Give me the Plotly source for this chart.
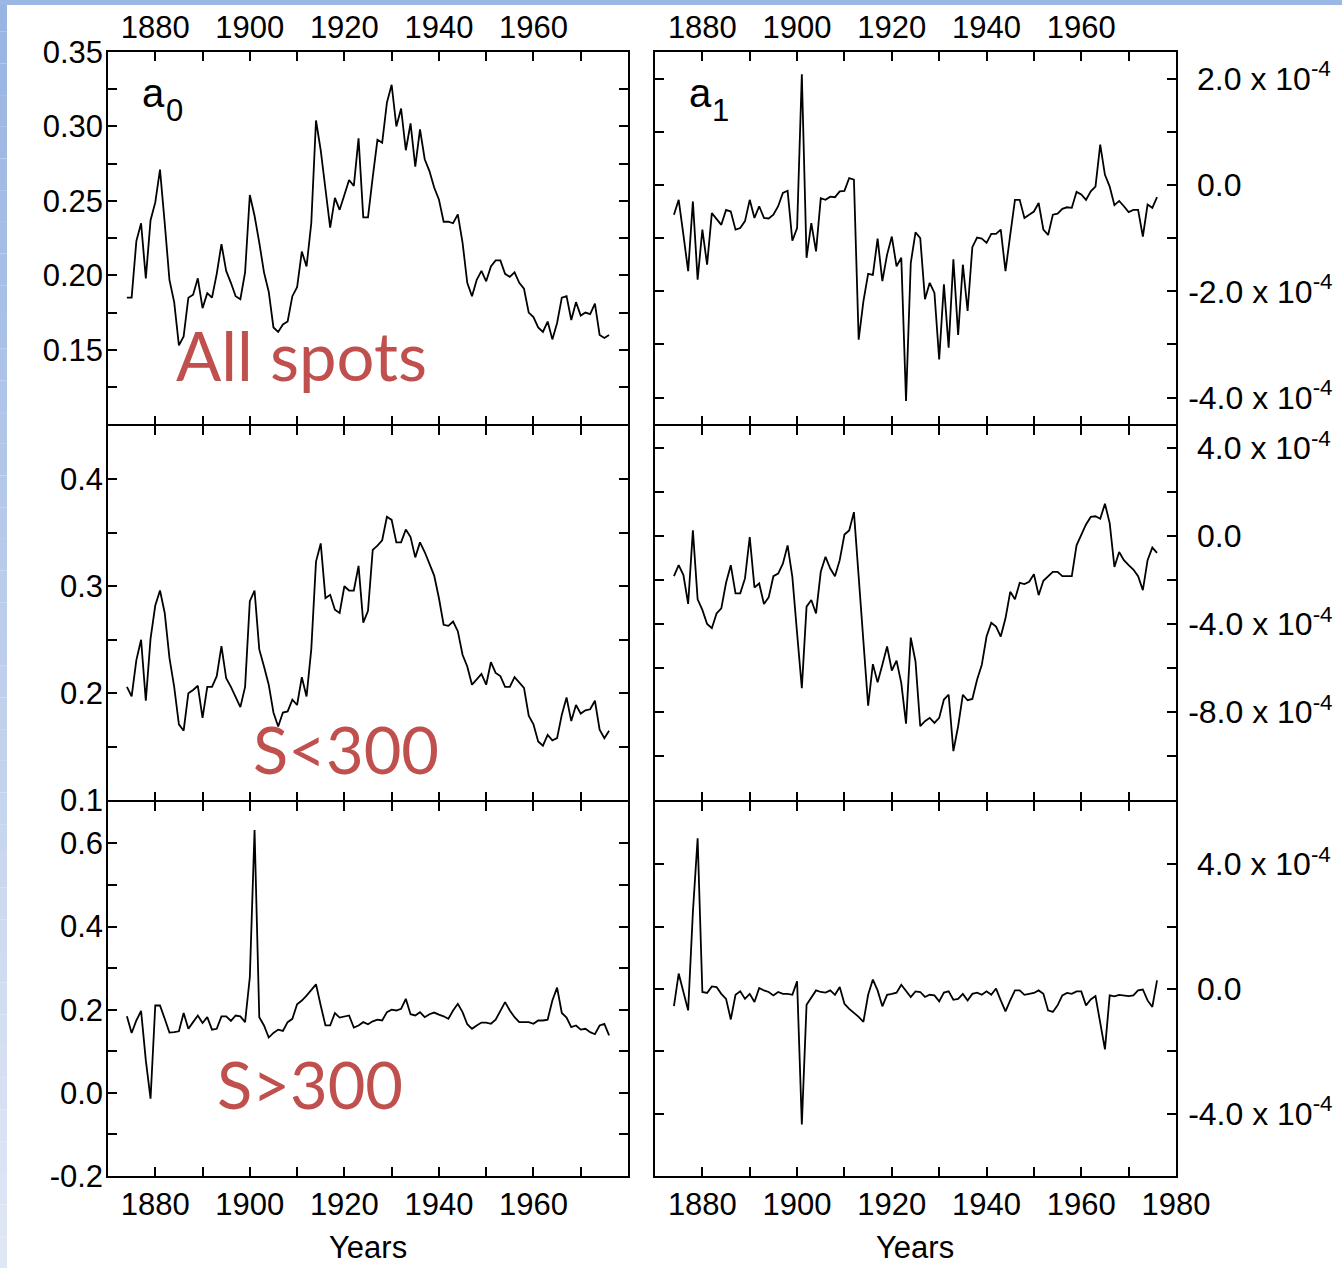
import plotly.graph_objects as go

# ---------------------------------------------------------------- data
years = list(range(1874, 1977))

# a0 coefficient, all spots
a0_all = [
    0.185, 0.185, 0.223, 0.235, 0.198, 0.237, 0.249, 0.271, 0.235, 0.197,
    0.182, 0.153, 0.159, 0.185, 0.187, 0.198, 0.178, 0.188, 0.185, 0.201,
    0.221, 0.203, 0.195, 0.186, 0.184, 0.202, 0.254, 0.240, 0.222, 0.202,
    0.189, 0.165, 0.162, 0.167, 0.169, 0.186, 0.192, 0.216, 0.206, 0.235,
    0.304, 0.284, 0.258, 0.232, 0.252, 0.244, 0.254, 0.264, 0.260, 0.292,
    0.239, 0.239, 0.266, 0.291, 0.289, 0.316, 0.328, 0.300, 0.312, 0.284,
    0.302, 0.273, 0.298, 0.278, 0.270, 0.259, 0.251, 0.236, 0.236, 0.235,
    0.241, 0.222, 0.195, 0.186, 0.197, 0.203, 0.196, 0.206, 0.210, 0.210,
    0.201, 0.199, 0.202, 0.195, 0.191, 0.175, 0.172, 0.165, 0.162, 0.169,
    0.157, 0.168, 0.185, 0.186, 0.170, 0.182, 0.173, 0.175, 0.174, 0.181,
    0.160, 0.158, 0.160,
]

# a1 coefficient, all spots (units of 1e-4)
a1_all = [
    -0.56, -0.28, -0.94, -1.62, -0.31, -1.78, -0.84, -1.50, -0.53, -0.63,
    -0.75, -0.47, -0.50, -0.84, -0.81, -0.68, -0.28, -0.62, -0.40, -0.62,
    -0.63, -0.56, -0.40, -0.15, -0.11, -1.05, -0.81, 2.08, -1.37, -0.72,
    -1.25, -0.25, -0.28, -0.22, -0.23, -0.12, -0.11, 0.13, 0.10, -2.91,
    -2.19, -1.67, -1.69, -1.01, -1.81, -1.31, -0.97, -1.53, -1.37, -4.06,
    -1.47, -0.89, -1.00, -2.15, -1.84, -2.03, -3.28, -1.87, -3.06, -1.40,
    -2.82, -1.50, -2.37, -1.17, -0.99, -1.01, -1.09, -0.92, -0.92, -0.84,
    -1.62, -0.94, -0.28, -0.28, -0.62, -0.56, -0.50, -0.34, -0.84, -0.94,
    -0.56, -0.54, -0.45, -0.42, -0.43, -0.13, -0.18, -0.28, -0.12, -0.03,
    0.76, 0.19, -0.03, -0.38, -0.30, -0.40, -0.51, -0.47, -0.47, -0.97,
    -0.37, -0.43, -0.23,
]

# a0 coefficient, S < 300
a0_lt300 = [
    0.206, 0.197, 0.231, 0.250, 0.193, 0.251, 0.282, 0.296, 0.275, 0.233,
    0.206, 0.171, 0.165, 0.200, 0.203, 0.207, 0.177, 0.206, 0.206, 0.216,
    0.244, 0.214, 0.206, 0.196, 0.187, 0.206, 0.286, 0.296, 0.241, 0.225,
    0.208, 0.182, 0.169, 0.182, 0.183, 0.194, 0.189, 0.215, 0.197, 0.241,
    0.323, 0.340, 0.289, 0.292, 0.278, 0.275, 0.300, 0.296, 0.296, 0.319,
    0.266, 0.277, 0.334, 0.338, 0.343, 0.365, 0.362, 0.341, 0.341, 0.353,
    0.346, 0.327, 0.341, 0.332, 0.320, 0.310, 0.289, 0.264, 0.263, 0.267,
    0.258, 0.236, 0.225, 0.208, 0.213, 0.218, 0.208, 0.229, 0.219, 0.216,
    0.206, 0.206, 0.215, 0.210, 0.205, 0.179, 0.171, 0.155, 0.151, 0.161,
    0.156, 0.158, 0.180, 0.196, 0.174, 0.189, 0.181, 0.184, 0.185, 0.193,
    0.166, 0.158, 0.165,
]

# a1 coefficient, S < 300 (units of 1e-4)
a1_lt300 = [
    -1.83, -1.33, -1.78, -3.09, 0.25, -2.88, -3.36, -4.00, -4.19, -3.52,
    -3.29, -2.13, -1.33, -2.61, -2.61, -1.93, -0.05, -2.34, -2.16, -3.09,
    -2.79, -1.83, -1.71, -1.26, -0.43, -1.86, -4.42, -6.91, -3.21, -2.91,
    -3.52, -1.63, -0.95, -1.48, -1.83, -1.10, 0.06, 0.25, 1.08, -1.86,
    -4.72, -7.71, -5.82, -6.65, -5.85, -5.02, -6.11, -5.66, -6.68, -8.52,
    -4.62, -5.70, -8.64, -8.41, -8.26, -8.49, -8.26, -7.43, -7.21, -9.77,
    -8.64, -7.21, -7.46, -7.40, -6.53, -5.85, -4.57, -3.94, -4.12, -4.57,
    -3.74, -2.54, -2.88, -2.13, -2.19, -2.08, -1.74, -2.69, -2.04, -1.83,
    -1.63, -1.63, -1.83, -1.83, -1.83, -0.43, 0.03, 0.52, 0.86, 0.89,
    0.78, 1.46, 0.58, -1.41, -0.73, -1.10, -1.33, -1.53, -1.83, -2.46,
    -1.10, -0.53, -0.77,
]

# a0 coefficient, S > 300
a0_gt300 = [
    0.184, 0.144, 0.174, 0.197, 0.078, -0.014, 0.210, 0.210, 0.178, 0.145,
    0.146, 0.148, 0.192, 0.154, 0.170, 0.186, 0.168, 0.182, 0.152, 0.154,
    0.184, 0.184, 0.173, 0.186, 0.184, 0.170, 0.278, 0.632, 0.182, 0.162,
    0.133, 0.144, 0.152, 0.149, 0.170, 0.178, 0.213, 0.222, 0.234, 0.248,
    0.261, 0.210, 0.162, 0.162, 0.192, 0.181, 0.184, 0.186, 0.157, 0.162,
    0.170, 0.165, 0.172, 0.176, 0.174, 0.194, 0.200, 0.198, 0.202, 0.226,
    0.189, 0.186, 0.194, 0.182, 0.189, 0.193, 0.188, 0.184, 0.178, 0.198,
    0.214, 0.194, 0.165, 0.154, 0.162, 0.169, 0.169, 0.166, 0.176, 0.198,
    0.218, 0.198, 0.182, 0.170, 0.170, 0.170, 0.166, 0.174, 0.174, 0.176,
    0.222, 0.253, 0.192, 0.181, 0.158, 0.162, 0.152, 0.154, 0.146, 0.141,
    0.162, 0.166, 0.138,
]

# a1 coefficient, S > 300 (units of 1e-4)
a1_gt300 = [
    -0.55, 0.49, -0.10, -0.69, 2.46, 4.83, -0.10, -0.13, 0.08, 0.06,
    -0.16, -0.32, -0.98, -0.19, -0.08, -0.32, -0.16, -0.42, 0.03, -0.05,
    -0.10, -0.21, -0.10, -0.16, -0.16, -0.19, 0.24, -4.35, -0.51, -0.26,
    -0.05, -0.10, -0.12, -0.05, -0.19, 0.06, -0.48, -0.64, -0.76, -0.90,
    -1.06, -0.19, 0.30, -0.05, -0.56, -0.19, -0.16, -0.12, 0.13, -0.08,
    -0.26, -0.08, -0.10, -0.26, -0.19, -0.21, -0.40, -0.12, -0.08, -0.35,
    -0.32, -0.16, -0.37, -0.16, -0.12, -0.19, -0.08, -0.19, 0.01, -0.37,
    -0.72, -0.37, -0.05, -0.05, -0.19, -0.16, -0.13, -0.05, -0.16, -0.69,
    -0.74, -0.53, -0.21, -0.13, -0.16, -0.08, -0.08, -0.53, -0.34, -0.23,
    -1.06, -1.94, -0.21, -0.24, -0.19, -0.21, -0.23, -0.21, -0.05, -0.02,
    -0.37, -0.58, 0.27,
]

year_labels = [1880, 1900, 1920, 1940, 1960]
year_labels_last = [1880, 1900, 1920, 1940, 1960, 1980]

# ---------------------------------------------------------------- layout helpers
W, H = 1342, 1268
FONT = "Liberation Sans, Arial, sans-serif"
RED_FONT = "Lato, Open Sans, sans-serif"
RED = "#C0504D"
E4 = 1e-4
LW = 1.5

col_px = [(108, 628), (655, 1176)]
# rows are separated by one line width so the two frame lines coincide
row_px = [(52, 425 - LW / 2), (425 + LW / 2, 801 - LW / 2), (801 + LW / 2, 1176)]


def xdom(c):
    return [col_px[c][0] / W, col_px[c][1] / W]


def ydom(r):
    return [1 - row_px[r][1] / H, 1 - row_px[r][0] / H]


def px(x):
    return x / W


def py(y):
    return 1 - y / H


def e4_label(v):
    if abs(v) < 1e-9:
        return "\u00a00.0"
    sign = "-" if v < 0 else "\u00a0"
    return f"{sign}{abs(v):.1f} x 10<sup>-4</sup>"


# row, col, values, scale, y-range, minor step, labelled ticks, label formatter
panels = [
    (0, 0, a0_all, 1.0, (0.10, 0.35), 0.025, [0.15, 0.20, 0.25, 0.30, 0.35], lambda v: f"{v:.2f}"),
    (0, 1, a1_all, E4, (-4.5, 2.5), 1.0, [-4, -2, 0, 2], e4_label),
    (1, 0, a0_lt300, 1.0, (0.10, 0.45), 0.05, [0.1, 0.2, 0.3, 0.4], lambda v: f"{v:.1f}"),
    (1, 1, a1_lt300, E4, (-12, 5), 2.0, [-8, -4, 0, 4], e4_label),
    (2, 0, a0_gt300, 1.0, (-0.2, 0.7), 0.1, [-0.2, 0.0, 0.2, 0.4, 0.6], lambda v: f"{v:.1f}"),
    (2, 1, a1_gt300, E4, (-6, 6), 2.0, [-4, 0, 4], e4_label),
]

tick_style = dict(ticks="inside", ticklen=9, tickwidth=LW, tickcolor="black")
axis_common = dict(
    showline=True, mirror="ticks", linecolor="black", linewidth=LW,
    showgrid=False, zeroline=False, automargin=False,
    **tick_style,
)

fig = go.Figure()
layout = {}

for n, (r, c, vals, scale, yr, ystep, ylab, fmt) in enumerate(panels, start=1):
    xname = "x" if n == 1 else f"x{n}"
    yname = "y" if n == 1 else f"y{n}"
    fig.add_trace(go.Scatter(
        x=years, y=[v * scale for v in vals], mode="lines",
        line=dict(color="black", width=1.8), xaxis=xname, yaxis=yname,
        showlegend=False, hoverinfo="skip",
    ))

    xl = year_labels_last if (r == 2 and c == 1) else year_labels
    layout["xaxis" if n == 1 else f"xaxis{n}"] = dict(
        domain=xdom(c), range=[1870, 1980], anchor=yname,
        tickvals=xl, ticktext=[str(t) for t in xl],
        minor=dict(dtick=10, tick0=1870, showgrid=False, **tick_style),
        side="top" if r == 0 else "bottom",
        showticklabels=(r != 1),
        tickfont=dict(family=FONT, size=31, color="black"),
        **axis_common,
    )

    layout["yaxis" if n == 1 else f"yaxis{n}"] = dict(
        domain=ydom(r), range=[yr[0] * scale, yr[1] * scale], anchor=xname,
        tickvals=[v * scale for v in ylab], ticktext=[fmt(v) for v in ylab],
        minor=dict(dtick=ystep * scale, tick0=0, showgrid=False, **tick_style),
        side="left" if c == 0 else "right",
        ticklabelstandoff=-3 if c == 0 else 4,
        tickfont=dict(family=FONT, size=31 if c == 0 else 32, color="black"),
        **axis_common,
    )

# ---------------------------------------------------------------- text
annotations = []


def label(text, x, y, size, family=FONT, color="black", xanchor="left", yanchor="middle"):
    annotations.append(dict(
        text=text, x=px(x), y=py(y), xref="paper", yref="paper",
        xanchor=xanchor, yanchor=yanchor, showarrow=False, borderpad=0,
        font=dict(family=family, size=size, color=color),
    ))


# panel coefficient labels
label("a", 141, 93, 40)
label("0", 165, 110, 31)
label("a", 688, 93, 40)
label("1", 711, 110, 31)

# subset labels
label("All spots", 175, 355, 67, RED_FONT, RED)
label("S&lt;300", 252, 749, 65, RED_FONT, RED)
label("S&gt;300", 216, 1084, 65, RED_FONT, RED)

# axis titles
label("Years", 368, 1266, 31, xanchor="center", yanchor="bottom")
label("Years", 915, 1266, 31, xanchor="center", yanchor="bottom")

# ---------------------------------------------------------------- slide frame
shapes = []
top_c, bot_c = (152, 180, 226), (224, 231, 244)
nb = 40
for k in range(nb):
    t = k / (nb - 1)
    col = tuple(round(a + (b - a) * t) for a, b in zip(top_c, bot_c))
    shapes.append(dict(
        type="rect", xref="paper", yref="paper", layer="below",
        x0=0, x1=px(7), y0=py(H * (k + 1) / nb), y1=py(H * k / nb),
        fillcolor=f"rgb{col}", line=dict(width=0),
    ))
shapes.append(dict(
    type="rect", xref="paper", yref="paper", layer="below",
    x0=0, x1=1, y0=py(5), y1=1,
    fillcolor="rgb(155,183,227)", line=dict(width=0),
))

fig.update_layout(
    width=W, height=H, autosize=False,
    margin=dict(l=0, r=0, t=0, b=0, pad=0),
    paper_bgcolor="white", plot_bgcolor="white",
    annotations=annotations, shapes=shapes,
    **layout,
)

fig.write_html("out.html")
